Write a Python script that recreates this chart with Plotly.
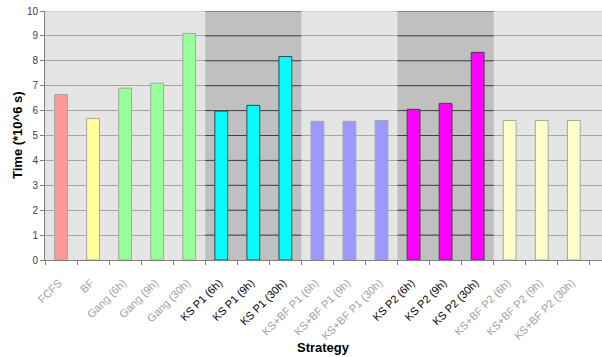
import plotly.graph_objects as go

# Mean completion time per scheduling strategy (units of 10^6 s)
categories = [
    "FCFS", "BF", "Gang (6h)", "Gang (9h)", "Gang (30h)",
    "KS P1 (6h)", "KS P1 (9h)", "KS P1 (30h)",
    "KS+BF P1 (6h)", "KS+BF P1 (9h)", "KS+BF P1 (30h)",
    "KS P2 (6h)", "KS P2 (9h)", "KS P2 (30h)",
    "KS+BF P2 (6h)", "KS+BF P2 (9h)", "KS+BF P2 (30h)",
]
times = [
    6.65, 5.68, 6.9, 7.1, 9.1,
    5.98, 6.21, 8.17,
    5.57, 5.57, 5.6,
    6.05, 6.29, 8.34,
    5.6, 5.6, 5.6,
]
fill_colors = (
    ["#FF9999", "#FFFF99"] + ["#99FF99"] * 3 + ["#00FFFF"] * 3
    + ["#9999FF"] * 3 + ["#FF00FF"] * 3 + ["#FFFFCC"] * 3
)
highlighted = [c.startswith("KS P") for c in categories]
y_ticks = list(range(0, 11))

border_colors = ["#404040" if h else "#A6A6A6" for h in highlighted]
tick_text = [
    f"<span style='color:{'#000000' if h else '#A0A0A0'}'>{c}&nbsp;</span>"
    for c, h in zip(categories, highlighted)
]

fig = go.Figure()
fig.add_trace(go.Bar(
    x=categories,
    y=times,
    width=0.4,
    marker=dict(color=fill_colors, line=dict(color=border_colors, width=1)),
    showlegend=False,
))

shapes = []
# Darker bands behind the KS P1 / KS P2 groups, with darker gridlines over them
for i0 in [i for i, h in enumerate(highlighted) if h and (i == 0 or not highlighted[i - 1])]:
    i1 = i0
    while i1 + 1 < len(highlighted) and highlighted[i1 + 1]:
        i1 += 1
    shapes.append(dict(type="rect", xref="x", yref="y", x0=i0 - 0.5, x1=i1 + 0.5,
                       y0=0, y1=10, fillcolor="#C0C0C0", line=dict(width=0), layer="below"))
    for t in y_ticks[1:]:
        shapes.append(dict(type="line", xref="x", yref="y", x0=i0 - 0.5, x1=i1 + 0.5,
                           y0=t, y1=t, line=dict(color="#404040", width=1), layer="between"))
# Top border of the plot area
shapes.append(dict(type="line", xref="paper", yref="y", x0=0, x1=1, y0=10, y1=10,
                   line=dict(color="#C8C8C8", width=1.5), layer="between"))

fig.update_layout(
    width=602, height=357,
    margin=dict(l=45, r=0, t=11, b=97),
    paper_bgcolor="white",
    plot_bgcolor="#E5E5E5",
    font=dict(family="Liberation Sans, Arial, sans-serif", size=10, color="#404040"),
    bargap=0.6,
    shapes=shapes,
    xaxis=dict(
        type="category", tickmode="array", tickvals=categories, ticktext=tick_text,
        tickson="boundaries",
        tickangle=-45, range=[-0.5, 16.88], showgrid=False,
        ticks="outside", ticklen=4, tickcolor="#808080",
        showline=True, linecolor="#808080", linewidth=1,
        tickfont=dict(size=11),
        ticklabelstandoff=9,
        zeroline=False,
    ),
    yaxis=dict(
        range=[0, 10], tickvals=y_ticks, showgrid=True, gridcolor="#A6A6A6", gridwidth=1,
        ticks="outside", ticklen=4, tickcolor="#808080",
        showline=True, linecolor="#808080", linewidth=1,
        tickfont=dict(size=10, color="#404040"), zeroline=False,
    ),
    annotations=[
        dict(text="<b>Time (*10^6 s)</b>", xref="paper", yref="paper", x=0, y=0.5,
             xshift=-37, textangle=-90, showarrow=False,
             font=dict(size=13, color="#000000")),
        dict(text="<b>Strategy</b>", xref="paper", yref="paper", x=0.5, y=0,
             yshift=-87, showarrow=False, yanchor="middle",
             font=dict(size=13, color="#000000")),
    ],
)

fig.write_html("out.html")
